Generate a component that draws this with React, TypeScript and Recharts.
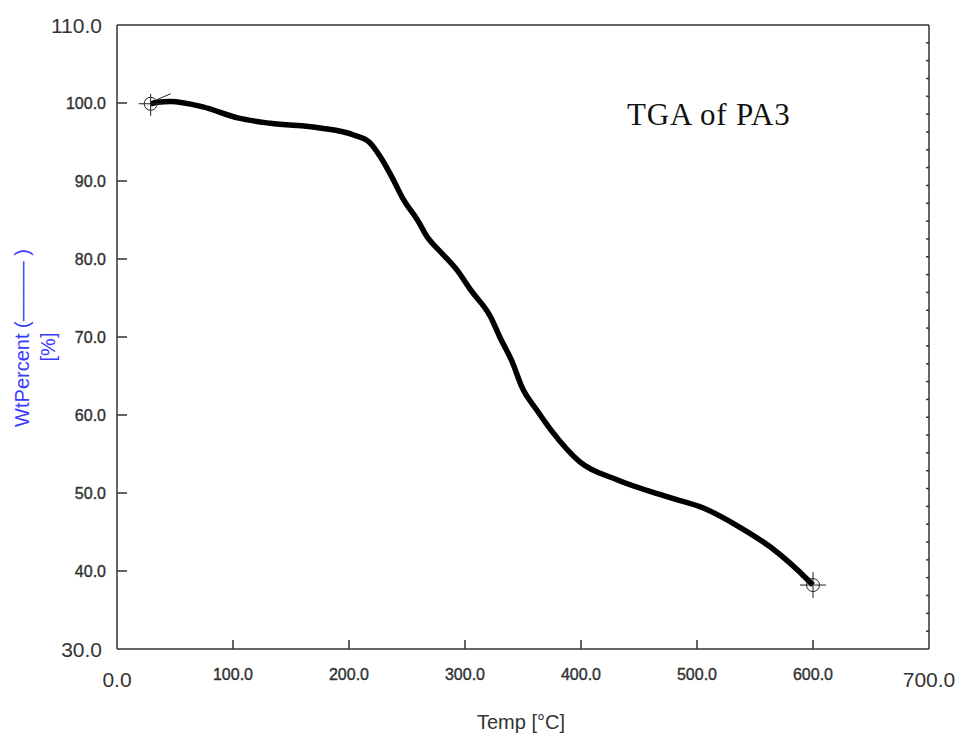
import React from 'react';
import { LineChart, Line, XAxis, YAxis, Label } from 'recharts';

const temps = [29, 35, 46, 74, 104, 132, 175, 204, 218, 227, 237, 247, 259, 268, 279, 293, 305, 322, 330, 341, 349, 362, 374, 399, 431, 477, 505, 537, 563, 598, 600];
const wtPercent = [99.9, 100.1, 100.2, 99.5, 98.1, 97.4, 96.8, 95.9, 94.9, 93.1, 90.5, 87.6, 85.0, 82.7, 80.9, 78.6, 76.0, 72.6, 70.0, 66.7, 63.6, 60.6, 58.1, 54.0, 51.7, 49.4, 48.1, 45.6, 43.1, 38.5, 38.2];
const xTicks = [0, 100, 200, 300, 400, 500, 600, 700];
const yTicks = [30, 40, 50, 60, 70, 80, 90, 100, 110];
const minorDivisions = 35;
const minorTicks = Array.from({ length: minorDivisions - 1 }, (_, k) => 110 - ((k + 1) * 80) / minorDivisions);

const data = temps.map((t, i) => ({ temp: t, wt: wtPercent[i] }));

const FONT = '"Liberation Sans", Arial, sans-serif';
const AXIS = '#333';

const XTick = (props: any) => {
  const { x, y, payload } = props;
  const v = payload.value as number;
  const big = v === 0 || v === 700;
  return (
    <g>
      {!big && <line x1={x} x2={x} y1={y} y2={y - 9} stroke={AXIS} strokeWidth={1.5} />}
      <text
        x={x}
        y={y + (big ? 38 : 31)}
        textAnchor="middle"
        fontSize={big ? 21 : 16}
        fill="#333"
        stroke={big ? 'none' : '#333'}
        strokeWidth={0.4}
        fontFamily={FONT}
      >
        {v.toFixed(1)}
      </text>
    </g>
  );
};

const YTick = (props: any) => {
  const { x, y, payload } = props;
  const v = payload.value as number;
  const big = v === 30 || v === 110;
  return (
    <g>
      {!big && <line x1={x} x2={x + 10} y1={y} y2={y} stroke={AXIS} strokeWidth={1.5} />}
      <text
        x={x - (big ? 15 : 11)}
        y={y + (big ? 7.5 : 5.7)}
        textAnchor="end"
        fontSize={big ? 21 : 16}
        fill="#333"
        stroke={big ? 'none' : '#333'}
        strokeWidth={0.4}
        fontFamily={FONT}
      >
        {v.toFixed(1)}
      </text>
    </g>
  );
};

const MinorTick = (props: any) => {
  const { x, y } = props;
  return <line x1={x - 3} x2={x} y1={y} y2={y} stroke={AXIS} strokeWidth={1.5} />;
};

const Marker = (props: any) => {
  const { cx, cy, index } = props;
  if (index === 0) {
    return (
      <g key={`m${index}`} stroke="#222" strokeWidth={1} fill="none">
        <circle cx={cx} cy={cy} r={6.5} />
        <line x1={cx - 12} x2={cx + 11} y1={cy} y2={cy} />
        <line x1={cx} x2={cx} y1={cy - 10} y2={cy + 12} />
        <line x1={cx + 6} x2={cx + 20} y1={cy - 4} y2={cy - 10} />
      </g>
    );
  }
  if (index === data.length - 1) {
    return (
      <g key={`m${index}`} stroke="#222" strokeWidth={1} fill="none">
        <circle cx={cx} cy={cy} r={6.5} />
        <line x1={cx - 13} x2={cx + 13} y1={cy} y2={cy} />
        <line x1={cx} x2={cx} y1={cy - 13} y2={cy + 13} />
      </g>
    );
  }
  return <g key={`m${index}`} />;
};

const YTitle = (props: any) => {
  const vb = props.viewBox || { x: 0, y: 25 };
  const cx1 = vb.x + 22;
  const cy1 = 338;
  const cx2 = vb.x + 48;
  const cy2 = 347;
  return (
    <g>
      <g fontFamily={FONT} fontSize={20} fill="#3a3aff">
        <text x={cx1} y={cy1} textAnchor="middle" dominantBaseline="central" transform={`rotate(-90, ${cx1}, ${cy1})`}>
          WtPercent (——— )
        </text>
        <text x={cx2} y={cy2} textAnchor="middle" dominantBaseline="central" transform={`rotate(-90, ${cx2}, ${cy2})`}>
          [%]
        </text>
      </g>
      <text
        x={627}
        y={125}
        textAnchor="start"
        fontSize={31}
        letterSpacing={0.8}
        fill="#111"
        fontFamily='"Liberation Serif", "Times New Roman", serif'
      >
        TGA of PA3
      </text>
    </g>
  );
};

const XTitle = () => (
  <text x={521} y={729} textAnchor="middle" fontSize={20} fill="#333" fontFamily={FONT}>
    Temp [°C]
  </text>
);

export default function App() {
  return (
    <div style={{ position: 'absolute', left: 0, top: 0, width: 958, height: 733, background: '#fff' }}>
      <LineChart width={958} height={733} data={data} margin={{ top: 24, right: 28, bottom: 0, left: 0 }}>
        <XAxis
          xAxisId="b"
          dataKey="temp"
          type="number"
          domain={[0, 700]}
          ticks={xTicks}
          interval={0}
          height={84}
          tickSize={0}
          tickMargin={0}
          tickLine={false}
          tick={<XTick />}
          axisLine={{ stroke: AXIS, strokeWidth: 1.5 }}
          allowDataOverflow
        >
          <Label content={<XTitle />} />
        </XAxis>
        <XAxis
          xAxisId="t"
          orientation="top"
          dataKey="temp"
          type="number"
          domain={[0, 700]}
          height={1}
          ticks={xTicks}
          tick={false}
          tickLine={false}
          axisLine={{ stroke: AXIS, strokeWidth: 1.5 }}
          allowDataOverflow
        />
        <YAxis
          yAxisId="l"
          type="number"
          domain={[30, 110]}
          ticks={yTicks}
          interval={0}
          width={117}
          tickSize={0}
          tickMargin={0}
          tickLine={false}
          tick={<YTick />}
          axisLine={{ stroke: AXIS, strokeWidth: 1.5 }}
          allowDataOverflow
        >
          <Label content={<YTitle />} />
        </YAxis>
        <YAxis
          yAxisId="r"
          orientation="right"
          type="number"
          domain={[30, 110]}
          ticks={minorTicks}
          interval={0}
          width={1}
          tickSize={0}
          tickMargin={0}
          tickLine={false}
          tick={<MinorTick />}
          axisLine={{ stroke: AXIS, strokeWidth: 1.5 }}
          allowDataOverflow
        />
        <Line
          xAxisId="b"
          yAxisId="l"
          type="monotone"
          dataKey="wt"
          stroke="#000"
          strokeWidth={5.5}
          dot={Marker}
          activeDot={false}
          isAnimationActive={false}
        />
        <Line
          xAxisId="t"
          yAxisId="r"
          type="monotone"
          dataKey="wt"
          stroke="none"
          dot={false}
          activeDot={false}
          isAnimationActive={false}
        />
      </LineChart>
    </div>
  );
}
